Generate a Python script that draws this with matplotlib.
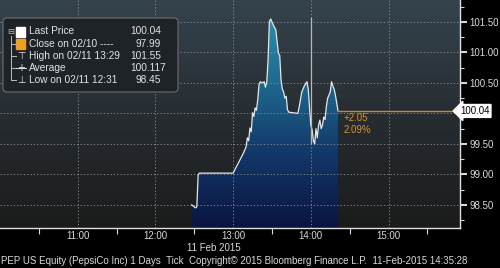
import numpy as np
import matplotlib.pyplot as plt
from matplotlib.colors import LinearSegmentedColormap
from matplotlib.patches import FancyBboxPatch, Rectangle
from matplotlib.transforms import IdentityTransform, blended_transform_factory

plt.rcParams['font.family'] = ['Liberation Sans', 'DejaVu Sans']
plt.rcParams['font.size'] = 7

# tick data (time, price)
times = ["12:28", "12:31", "12:32", "12:33", "12:34", "13:00", "13:08", "13:10",
         "13:11", "13:12", "13:13", "13:14", "13:15", "13:16", "13:17", "13:18",
         "13:19", "13:20", "13:21", "13:23", "13:24", "13:25", "13:26", "13:27",
         "13:28", "13:29", "13:30", "13:31", "13:33", "13:34", "13:35", "13:36",
         "13:37", "13:38", "13:39", "13:40", "13:41", "13:42", "13:43", "13:50",
         "13:51", "13:53", "13:55", "13:57", "13:58", "13:59", "14:00", "14:01",
         "14:02", "14:03", "14:04", "14:05", "14:06", "14:07", "14:08", "14:09",
         "14:10", "14:11", "14:12", "14:13", "14:14", "14:15", "14:16", "14:17",
         "14:18", "14:19", "14:20", "14:21"]
prices = [98.50, 98.45, 98.47, 98.99, 99.02, 99.02, 99.35, 99.45,
          99.60, 99.55, 99.76, 99.70, 100.01, 99.95, 100.09, 100.05,
          100.22, 100.47, 100.52, 100.50, 100.52, 100.43, 100.52, 100.88,
          101.50, 101.55, 101.50, 101.45, 101.37, 101.17, 100.99, 100.95,
          100.55, 100.40, 100.35, 100.25, 100.28, 100.06, 100.02, 100.00,
          100.10, 100.35, 100.45, 100.52, 100.40, 100.10, 99.81, 99.73,
          99.55, 99.50, 99.75, 99.60, 99.81, 99.89, 99.75, 99.81,
          99.94, 99.90, 100.11, 100.25, 100.30, 100.35, 100.52, 100.45,
          100.40, 100.30, 100.17, 100.04]
spike_time = "14:00"
spike_range = [99.50, 101.58]

last_price = 100.04
change_txt = ["+2.05", "2.09%"]

legend_labels = ["Last Price", "Close on 02/10 ----", "High on 02/11 13:29",
                 "Average", "Low on 02/11 12:31"]
legend_values = ["100.04", "97.99", "101.55", "100.117", "98.45"]

hour_ticks = [11, 12, 13, 14, 15]
price_ticks = [98.5, 99.0, 99.5, 100.0, 100.5, 101.0, 101.5]
date_label = "11 Feb 2015"
footer = ("PEP US Equity (PepsiCo Inc) 1 Days  Tick  Copyright\u00a9 2015 "
          "Bloomberg Finance L.P.  11-Feb-2015 14:35:28")


def hrs(s):
    h, m = s.split(":")
    return int(h) + int(m) / 60.0


t = np.array([hrs(s) for s in times])
p = np.array(prices)

W, H = 500, 268
fig = plt.figure(figsize=(W / 100, H / 100), dpi=100, facecolor='black')
ax = fig.add_axes([0, 1 - 228 / H, 460 / W, 228 / H])
x0, x1 = 10.0, 15.92
y0, y1 = 98.12, 101.86
ax.set_xlim(x0, x1)
ax.set_ylim(y0, y1)

grad = np.linspace(0, 1, 256).reshape(-1, 1)
bg = LinearSegmentedColormap.from_list('bg', ['#1b1b1b', '#272d32', '#35434d'])
ax.imshow(grad, cmap=bg, origin='lower', extent=[x0, x1, y0, y1], aspect='auto', zorder=0)

fillc = LinearSegmentedColormap.from_list('fill', ['#0b1440', '#13386a', '#1f6e92', '#2f97b0'])
poly = ax.fill_between(t, p, y0, color='none', lw=0, zorder=1)
im = ax.imshow(grad, cmap=fillc, origin='lower', extent=[x0, x1, y0, y1],
               aspect='auto', zorder=1.5)
im.set_clip_path(poly.get_paths()[0], transform=ax.transData)

ax.plot(t, p, color='#e6e6e6', lw=0.9, zorder=3)
ax.vlines(hrs(spike_time), spike_range[0], spike_range[1], color='#b8b8b8', lw=0.9, zorder=3)
ax.hlines(last_price, t[-1], x1, color='#d0892a', lw=1.0, zorder=3)

# grid + axes
ax.set_axisbelow(False)
ax.set_xticks(hour_ticks)
ax.set_xticklabels(["%d:00" % h for h in hour_ticks])
ax.set_xticks(np.arange(10.5, 16, 1.0), minor=True)
ax.set_yticks(price_ticks)
ax.set_yticklabels(["" if v == 100.0 else "%.2f" % v for v in price_ticks])
ax.set_yticks(np.arange(98.25, 101.9, 0.5), minor=True)
ax.grid(True, which='major', color='#929292', linestyle=(0, (1.5, 2.5)), lw=0.6)
ax.yaxis.tick_right()
for s in ['left', 'top']:
    ax.spines[s].set_visible(False)
for s in ['right', 'bottom']:
    ax.spines[s].set_color('#e0e0e0')
    ax.spines[s].set_linewidth(1.0)
ax.tick_params(axis='x', which='major', length=0, pad=2, colors='#d8d8d8', labelsize=7)
ax.tick_params(axis='x', which='minor', length=4, width=0.8, color='#d8d8d8')
ax.tick_params(axis='y', which='major', length=5, width=1.5, pad=2, colors='#d8d8d8', labelsize=7)
ax.tick_params(axis='y', which='minor', length=3, width=0.8, color='#d8d8d8')

# last price tag
bt = blended_transform_factory(ax.transAxes, ax.transData)
ax.text(1.0, last_price, "100.04", transform=bt, ha='left', va='center', fontsize=7,
        color='black', clip_on=False,
        bbox=dict(boxstyle='larrow,pad=0.15', fc='white', ec='white'))


def fp(px, py):
    return px / W, 1 - py / H


# change text
for i, s in enumerate(change_txt):
    fig.text(*fp(344, 118 + 12 * i), s, color='#d8922e', ha='left', va='center', fontsize=7)

fig.text(*fp(214, 248), date_label, color='#d8d8d8', ha='center', va='center', fontsize=7)
fig.text(*fp(1, 261), footer, color='#d8d8d8', ha='left', va='center', fontsize=7)

# legend box (pixel coordinates)
box = FancyBboxPatch((3, H - 92), 175, 74, boxstyle='round,pad=0,rounding_size=4',
                     transform=IdentityTransform(), fc='#1e2327', ec='#6e6e6e', lw=0.8)
fig.add_artist(box)
rows = [31.5 + 12.2 * i for i in range(5)]
txtc = '#e2e2e2'
for i, (lab, val) in enumerate(zip(legend_labels, legend_values)):
    fig.text(*fp(29, rows[i]), lab, color=txtc, ha='left', va='center', fontsize=7.3)
    dec = len(val.split('.')[1])
    fig.text(*fp(161 + 5 * (dec - 2), rows[i]), val, color=txtc, ha='right', va='center', fontsize=7.3)
# icons
fig.add_artist(Rectangle((16, H - rows[0] - 5), 9, 10, transform=IdentityTransform(),
                         fc='white', ec='white'))
fig.add_artist(Rectangle((16, H - rows[1] - 5), 9, 10, transform=IdentityTransform(),
                         fc='#f0a020', ec='#f0a020'))
fig.text(*fp(11, rows[0]), "\u229f", color='#bbbbbb', ha='center', va='center', fontsize=6,
         family='DejaVu Sans')
fig.lines.append(plt.Line2D([11 / W, 11 / W], [1 - (rows[0] + 4) / H, 1 - rows[4] / H],
                            transform=fig.transFigure, color='#bbbbbb', lw=0.7))
for r in rows[1:]:
    fig.lines.append(plt.Line2D([11 / W, 16 / W], [1 - r / H, 1 - r / H],
                                transform=fig.transFigure, color='#bbbbbb', lw=0.7))
fig.text(*fp(21, rows[2]), "\u22a4", color=txtc, ha='center', va='center', fontsize=7,
         family='DejaVu Sans')
fig.text(*fp(21, rows[3]), "+", color=txtc, ha='center', va='center', fontsize=7,
         family='DejaVu Sans')
fig.lines.append(plt.Line2D([16 / W, 26 / W], [1 - rows[3] / H, 1 - rows[3] / H],
                            transform=fig.transFigure, color=txtc, lw=0.7))
fig.text(*fp(21, rows[4]), "\u22a5", color=txtc, ha='center', va='center', fontsize=7,
         family='DejaVu Sans')

fig.savefig('out.png', dpi=100, facecolor='black')
